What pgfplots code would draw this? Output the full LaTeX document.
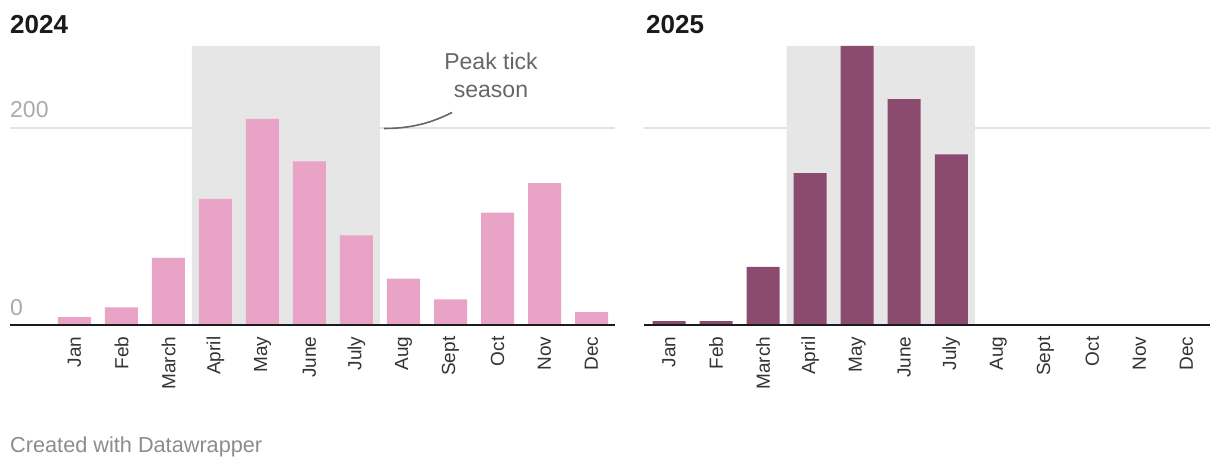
\documentclass[border=0pt]{standalone}
\usepackage{pgfplots}
\pgfplotsset{compat=1.18}
\usepackage{fontspec}
\setmainfont{Liberation Sans}
\definecolor{pinkbar}{HTML}{E8A3C7}
\definecolor{purplebar}{HTML}{8A4B6F}
\definecolor{shadec}{HTML}{E6E6E6}
\definecolor{gridc}{HTML}{E3E3E3}
\definecolor{labelc}{HTML}{333333}
\definecolor{ylabc}{HTML}{AAAAAA}
\definecolor{annc}{HTML}{666666}
\definecolor{footc}{HTML}{8C8C8C}
\definecolor{titlec}{HTML}{1A1A1A}
\pgfplotsset{
  mystyle/.style={
    scale only axis, height=279pt, ymin=0, ymax=283, xmax=11.5,
    axis line style={draw=none},
    tick style={draw=none},
    major tick length=0pt,
    xtick={0,...,11},
    xticklabels={Jan,Feb,March,April,May,June,July,Aug,Sept,Oct,Nov,Dec},
    xticklabel style={rotate=90, anchor=east, inner sep=0pt, text=labelc,
      font=\fontsize{19}{20}\selectfont, xshift=1.5pt},
    xticklabel shift=13pt,
    ytick={0,200},
    ymajorgrids,
    grid style={gridc, line width=2pt},
    /pgf/number format/assume math mode=true,
    clip=false,
  }
}
\begin{document}
\begin{tikzpicture}
\path[use as bounding box] (0,0) rectangle (1220pt,-470pt);
% 2024
\begin{axis}[mystyle, at={(10pt,-325pt)}, anchor=south west, width=605pt,
  xmin=-1.372,
  yticklabels={0,200},
  yticklabel style={anchor=south west, inner sep=0pt, yshift=9.5pt, text=ylabc,
    font=\fontsize{23}{24}\selectfont}]
\addplot[fill=shadec, draw=none] coordinates {(2.5,0) (2.5,283) (6.5,283) (6.5,0)} \closedcycle;
\addplot[ybar, bar width=33pt, bar shift=0pt, fill=pinkbar, draw=none] coordinates {
  (0,8) (1,18) (2,68) (3,128) (4,209) (5,166) (6,91) (7,47) (8,26) (9,114) (10,144) (11,13)};
\draw[line width=2.7pt, color=titlec] (rel axis cs:0,0) -- (rel axis cs:1,0);
\end{axis}
% 2025
\begin{axis}[mystyle, at={(644pt,-325pt)}, anchor=south west, width=566pt,
  xmin=-0.532,
  yticklabels={,}]
\addplot[fill=shadec, draw=none] coordinates {(2.5,0) (2.5,283) (6.5,283) (6.5,0)} \closedcycle;
\addplot[ybar, bar width=33pt, bar shift=0pt, fill=purplebar, draw=none] coordinates {
  (0,4) (1,4) (2,59) (3,154) (4,283) (5,229) (6,173)};
\draw[line width=2.7pt, color=titlec] (rel axis cs:0,0) -- (rel axis cs:1,0);
\end{axis}
% titles
\node[anchor=base west, inner sep=0pt, text=titlec, font=\bfseries\fontsize{26}{28}\selectfont] at (10pt,-34pt) {2024};
\node[anchor=base west, inner sep=0pt, text=titlec, font=\bfseries\fontsize{26}{28}\selectfont] at (646pt,-34pt) {2025};
% annotation
\node[anchor=base, inner sep=0pt, text=annc, font=\fontsize{23}{25}\selectfont] at (491pt,-70pt) {Peak tick};
\node[anchor=base, inner sep=0pt, text=annc, font=\fontsize{23}{25}\selectfont] at (491pt,-98pt) {season};
\draw[annc, line width=1.6pt] (384pt,-128.5pt) .. controls (415pt,-128.5pt) and (435pt,-121pt) .. (452pt,-112.5pt);
% footer
\node[anchor=base west, inner sep=0pt, text=footc, font=\fontsize{21.7}{23}\selectfont] at (10pt,-452pt) {Created with Datawrapper};
\end{tikzpicture}
\end{document}
